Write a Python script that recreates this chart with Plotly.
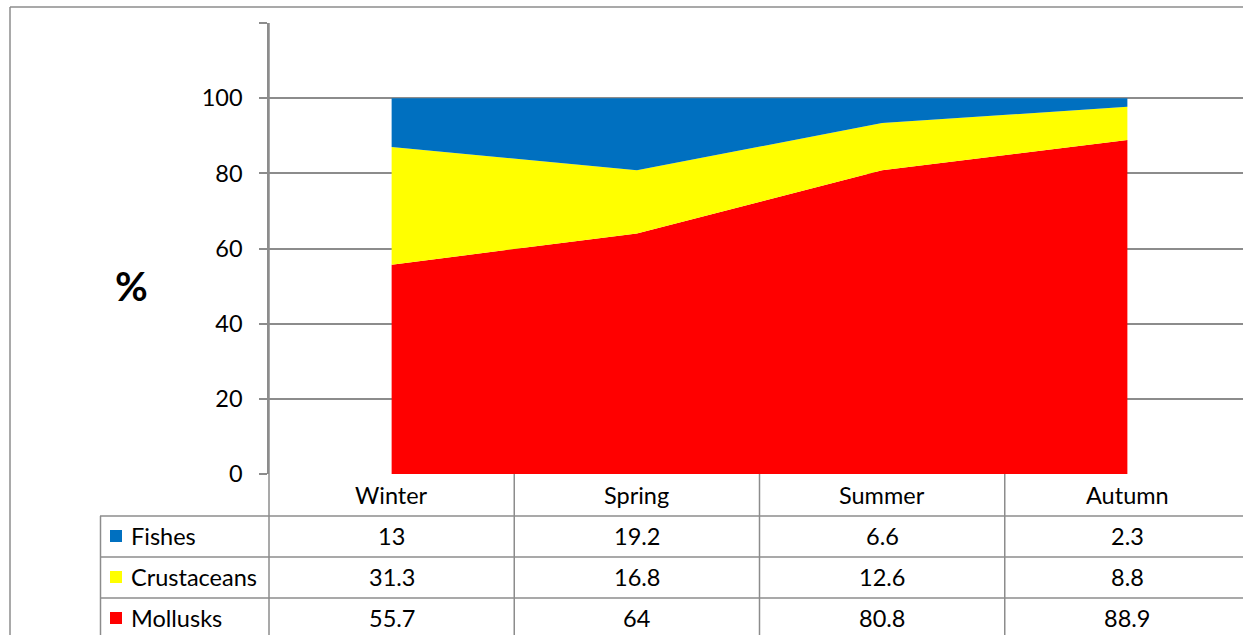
import plotly.graph_objects as go

seasons = ["Winter", "Spring", "Summer", "Autumn"]
fishes = [13, 19.2, 6.6, 2.3]
crustaceans = [31.3, 16.8, 12.6, 8.8]
mollusks = [55.7, 64, 80.8, 88.9]
y_ticks = [0, 20, 40, 60, 80, 100, 120]
y_tick_labels = ["0", "20", "40", "60", "80", "100", ""]

series = [("Mollusks", mollusks, "#FF0000"),
          ("Crustaceans", crustaceans, "#FFFF00"),
          ("Fishes", fishes, "#0070C0")]

W, H = 1243, 635
L, T, B = 269, 23, 474  # plot pixel edges
FONT = "Lato"
FS = 23.5
GRID = "#8C8C8C"

xs = list(range(len(seasons)))
fig = go.Figure()
for name, vals, col in series:
    fig.add_trace(go.Scatter(x=xs, y=vals, name=name, stackgroup="one",
                             mode="lines", line=dict(width=0, color=col),
                             fillcolor=col, hoverinfo="x+y+name"))

def px_x(p):
    return (p - L) / (W - L)

def px_y(p):
    return (B - p) / (B - T)

xmax = (W - L) / ((W - L + 7) / 4) - 0.5

shapes = []
annos = []
# outer border
shapes.append(dict(type="line", xref="paper", yref="paper", x0=px_x(10), x1=px_x(W), y0=px_y(7), y1=px_y(7), line=dict(color=GRID, width=1.5)))
shapes.append(dict(type="line", xref="paper", yref="paper", x0=px_x(10), x1=px_x(10), y0=px_y(7), y1=px_y(H), line=dict(color=GRID, width=1.5)))
# y axis extended down through table
shapes.append(dict(type="line", xref="paper", yref="paper", x0=0, x1=0, y0=1, y1=px_y(H), line=dict(color=GRID, width=1.5)))
# category boundaries in table
for b in [0.5, 1.5, 2.5]:
    shapes.append(dict(type="line", xref="x", yref="paper", x0=b, x1=b, y0=0, y1=px_y(H), line=dict(color=GRID, width=1.5)))
# horizontal table lines
for yp in [516, 557, 598]:
    shapes.append(dict(type="line", xref="paper", yref="paper", x0=px_x(100), x1=px_x(W), y0=px_y(yp), y1=px_y(yp), line=dict(color=GRID, width=1.5)))
# table left edge
shapes.append(dict(type="line", xref="paper", yref="paper", x0=px_x(100.5), x1=px_x(100.5), y0=px_y(516), y1=px_y(H), line=dict(color=GRID, width=1.5)))

# header labels
for i, s in enumerate(seasons):
    annos.append(dict(x=i, y=px_y(495), xref="x", yref="paper", text=s, showarrow=False,
                      font=dict(family=FONT, size=FS, color="#000000"), xanchor="center", yanchor="middle"))

rows = [("Fishes", fishes, "#0070C0", 536),
        ("Crustaceans", crustaceans, "#FFFF00", 577),
        ("Mollusks", mollusks, "#FF0000", 618)]
for name, vals, col, yc in rows:
    shapes.append(dict(type="rect", xref="paper", yref="paper", x0=px_x(110), x1=px_x(122),
                       y0=px_y(yc - 6), y1=px_y(yc + 6), fillcolor=col, line=dict(width=0)))
    annos.append(dict(x=px_x(129), y=px_y(yc), xref="paper", yref="paper", text=name, showarrow=False,
                      font=dict(family=FONT, size=FS, color="#000000"), xanchor="left", yanchor="middle"))
    for i, v in enumerate(vals):
        annos.append(dict(x=i, y=px_y(yc), xref="x", yref="paper", text=f"{v:g}", showarrow=False,
                          font=dict(family=FONT, size=FS, color="#000000"), xanchor="center", yanchor="middle"))

annos.append(dict(x=px_x(131), y=px_y(286), xref="paper", yref="paper", text="<b>%</b>", showarrow=False,
                  font=dict(family=FONT, size=40, color="#000000"), xanchor="center", yanchor="middle"))

fig.update_layout(
    width=W, height=H,
    margin=dict(l=L, r=0, t=T, b=H - B),
    plot_bgcolor="white", paper_bgcolor="white",
    showlegend=False,
    shapes=shapes, annotations=annos,
    xaxis=dict(range=[-0.5, xmax], showticklabels=False, showgrid=False, zeroline=False,
               showline=False, ticks=""),
    yaxis=dict(range=[0, 120], tickvals=y_ticks, ticktext=y_tick_labels, showgrid=True,
               gridcolor=GRID, gridwidth=1.5, zeroline=False, showline=True, linecolor=GRID,
               linewidth=1.5, ticks="outside", ticklen=8, tickcolor=GRID, tickwidth=1.5,
               ticklabelstandoff=12,
               tickfont=dict(family=FONT, size=FS, color="#000000")),
)
fig.write_html("out.html", config={"displayModeBar": False},
               post_script="document.body.style.margin='0';document.body.style.overflow='hidden';")
